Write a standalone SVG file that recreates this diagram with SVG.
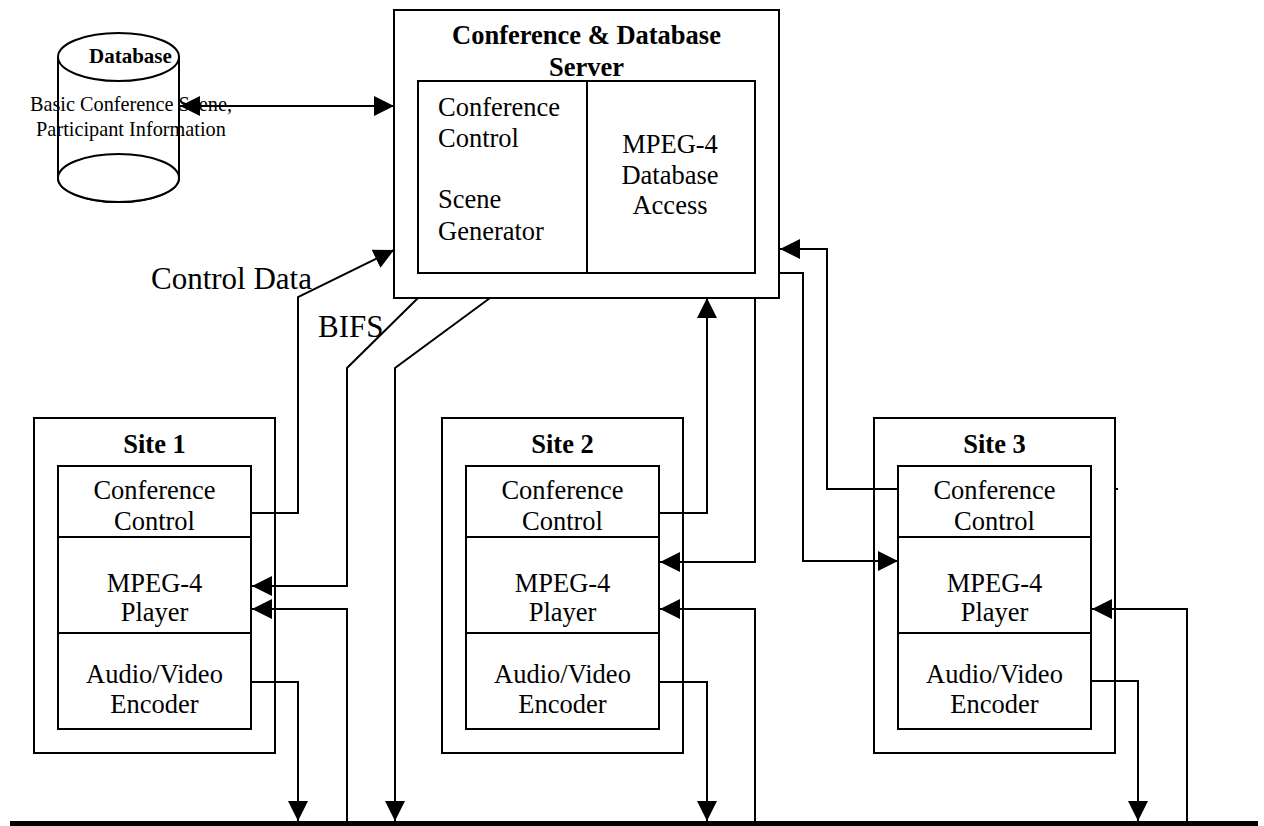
<svg xmlns="http://www.w3.org/2000/svg" width="1264" height="826" viewBox="0 0 1264 826">
<defs>
<style>
.box{fill:none;stroke:#000;stroke-width:2}
.wbox{fill:#fff;stroke:#000;stroke-width:2}
.ln{fill:none;stroke:#000;stroke-width:2}
.t{font-family:"Liberation Serif","Times New Roman",serif;fill:#000}
.r26{font-size:26.5px}
.b26{font-size:26.5px;font-weight:bold}
.mid{text-anchor:middle}
</style>
<marker id="ah" markerUnits="userSpaceOnUse" markerWidth="20" markerHeight="20" refX="20" refY="10" orient="auto-start-reverse" viewBox="0 0 20 20">
<path d="M0,0 L20,10 L0,20 z" fill="#000"/>
</marker>
</defs>
<rect width="1264" height="826" fill="#fff"/>

<g id="database">
<path d="M58,57 L58,178 A60.5,24 0 0 0 179,178 L179,57" class="wbox"/>
<ellipse cx="118.5" cy="178" rx="60.5" ry="24" class="wbox"/>
<ellipse cx="118.5" cy="57" rx="60.5" ry="24" class="wbox"/>
<text x="89" y="63" class="t" style="font-size:21px;font-weight:bold">Database</text>
<text x="131" y="111" class="t mid" style="font-size:20.3px">Basic Conference Scene,</text>
<text x="131" y="136" class="t mid" style="font-size:20.3px">Participant Information</text>
</g>

<g id="server">
<rect x="394" y="10" width="385" height="288" class="box"/>
<text x="586.5" y="44" class="t b26 mid">Conference &amp; Database</text>
<text x="586.5" y="76" class="t b26 mid">Server</text>
<rect x="418" y="81" width="337" height="192" class="box"/>
<line x1="587" y1="81" x2="587" y2="273" class="ln"/>
<text x="438" y="116" class="t r26">Conference</text>
<text x="438" y="147" class="t r26">Control</text>
<text x="438" y="208" class="t r26">Scene</text>
<text x="438" y="240" class="t r26">Generator</text>
<text x="670" y="153" class="t r26 mid">MPEG-4</text>
<text x="670" y="184" class="t r26 mid">Database</text>
<text x="670" y="214" class="t r26 mid">Access</text>
</g>

<g id="site1">
<rect x="34" y="418" width="241" height="335" class="box"/>
<text x="154.5" y="453" class="t b26 mid">Site 1</text>
<rect x="58" y="466" width="193" height="263" class="box"/>
<line x1="58" y1="537" x2="251" y2="537" class="ln"/>
<line x1="58" y1="633" x2="251" y2="633" class="ln"/>
<text x="154.5" y="499" class="t r26 mid">Conference</text>
<text x="154.5" y="530" class="t r26 mid">Control</text>
<text x="154.5" y="592" class="t r26 mid">MPEG-4</text>
<text x="154.5" y="621" class="t r26 mid">Player</text>
<text x="154.5" y="683" class="t r26 mid">Audio/Video</text>
<text x="154.5" y="713" class="t r26 mid">Encoder</text>
</g>

<g id="site2">
<rect x="442" y="418" width="241" height="335" class="box"/>
<text x="562.5" y="453" class="t b26 mid">Site 2</text>
<rect x="466" y="466" width="193" height="263" class="box"/>
<line x1="466" y1="537" x2="659" y2="537" class="ln"/>
<line x1="466" y1="633" x2="659" y2="633" class="ln"/>
<text x="562.5" y="499" class="t r26 mid">Conference</text>
<text x="562.5" y="530" class="t r26 mid">Control</text>
<text x="562.5" y="592" class="t r26 mid">MPEG-4</text>
<text x="562.5" y="621" class="t r26 mid">Player</text>
<text x="562.5" y="683" class="t r26 mid">Audio/Video</text>
<text x="562.5" y="713" class="t r26 mid">Encoder</text>
</g>

<g id="site3">
<rect x="874" y="418" width="241" height="335" class="box"/>
<text x="994.5" y="453" class="t b26 mid">Site 3</text>
<rect x="898" y="466" width="193" height="263" class="box"/>
<line x1="898" y1="537" x2="1091" y2="537" class="ln"/>
<line x1="898" y1="633" x2="1091" y2="633" class="ln"/>
<text x="994.5" y="499" class="t r26 mid">Conference</text>
<text x="994.5" y="530" class="t r26 mid">Control</text>
<text x="994.5" y="592" class="t r26 mid">MPEG-4</text>
<text x="994.5" y="621" class="t r26 mid">Player</text>
<text x="994.5" y="683" class="t r26 mid">Audio/Video</text>
<text x="994.5" y="713" class="t r26 mid">Encoder</text>
</g>

<g id="connectors">
<line x1="180" y1="106" x2="394" y2="106" class="ln" marker-start="url(#ah)" marker-end="url(#ah)"/>
<text x="151" y="289" class="t" style="font-size:31px">Control Data</text>
<text x="318" y="337" class="t" style="font-size:31px">BIFS</text>
<polyline points="251,513 298,513 298,297 394,250" class="ln" marker-end="url(#ah)"/>
<polyline points="418,298 347,368 347,586 252,586" class="ln" marker-end="url(#ah)"/>
<polyline points="490,298 395,368 395,821" class="ln" marker-end="url(#ah)"/>
<polyline points="347,821 347,609 252,609" class="ln" marker-end="url(#ah)"/>
<polyline points="251,682 298,682 298,821" class="ln" marker-end="url(#ah)"/>

<polyline points="659,513 707,513 707,298" class="ln" marker-end="url(#ah)"/>
<polyline points="755,298 755,562 660,562" class="ln" marker-end="url(#ah)"/>
<polyline points="755,821 755,609 660,609" class="ln" marker-end="url(#ah)"/>
<polyline points="659,682 707,682 707,821" class="ln" marker-end="url(#ah)"/>

<polyline points="898,489 827,489 827,249 780,249" class="ln" marker-end="url(#ah)"/>
<polyline points="779,273 803,273 803,561 898,561" class="ln" marker-end="url(#ah)"/>
<polyline points="1187,821 1187,609 1092,609" class="ln" marker-end="url(#ah)"/>
<polyline points="1091,681 1138,681 1138,821" class="ln" marker-end="url(#ah)"/>
<line x1="1115" y1="489" x2="1118" y2="489" class="ln"/>

<line x1="10" y1="823.5" x2="1258" y2="823.5" stroke="#000" stroke-width="5"/>
</g>
</svg>
